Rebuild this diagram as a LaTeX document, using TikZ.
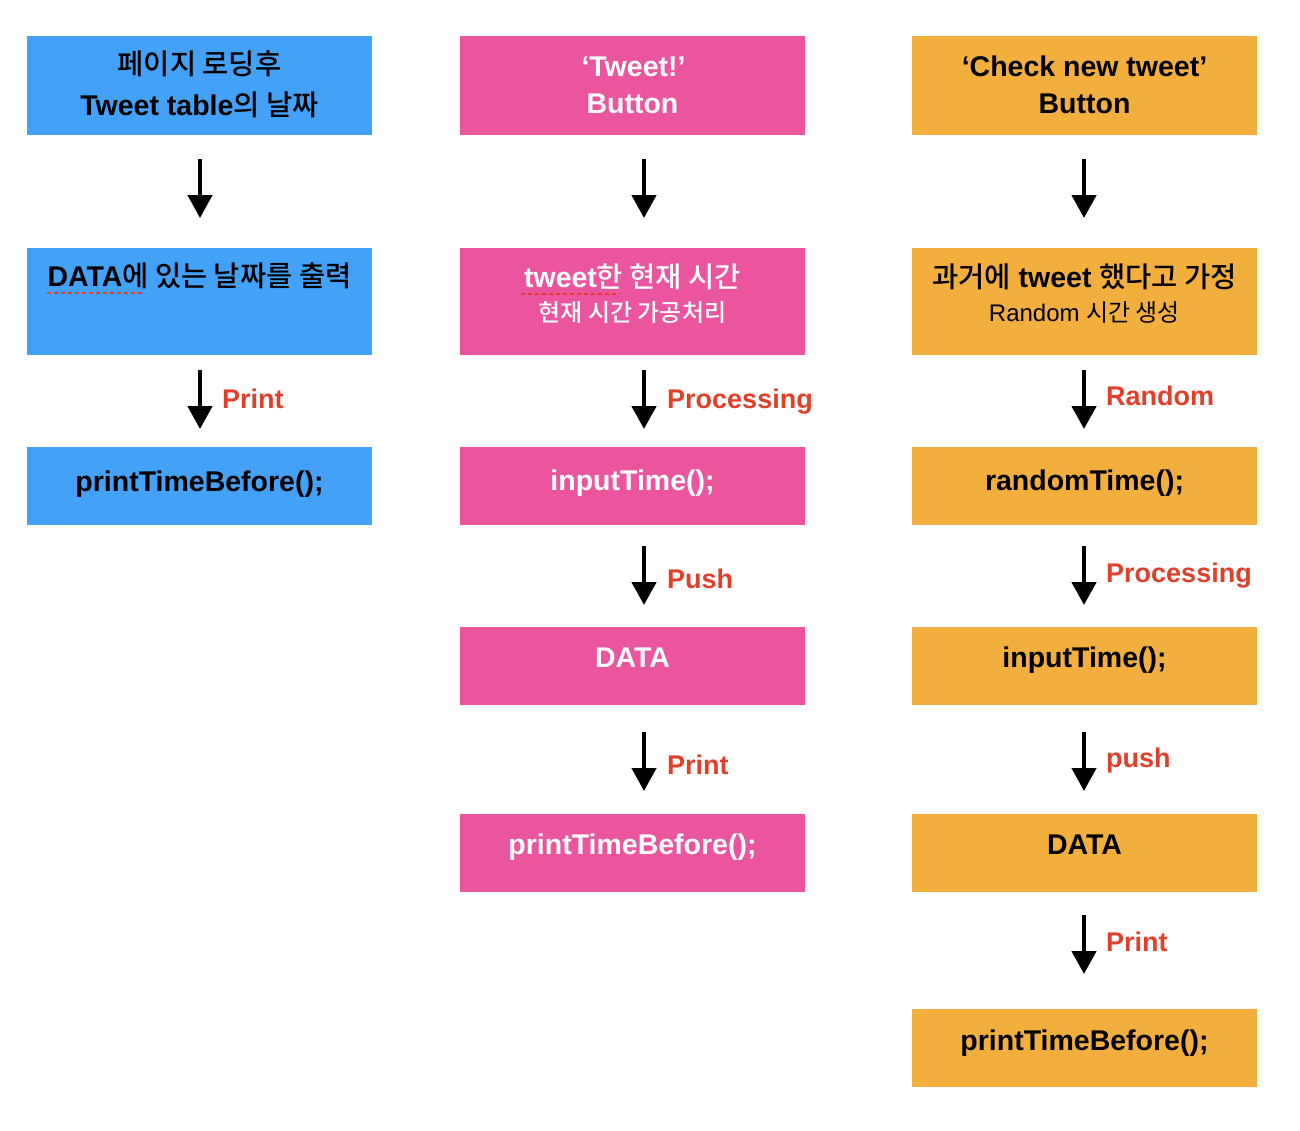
\documentclass[tikz,border=0pt]{standalone}
\usepackage{fontspec}
\setmainfont{Liberation Sans}
\newfontfamily\krfont{Noto Sans CJK KR}[BoldFont={Noto Sans CJK KR Medium}]
\newcommand\KR[1]{{\krfont #1}}
\usetikzlibrary{arrows.meta,calc}
\definecolor{cblue}{HTML}{43A1F8}
\definecolor{cpink}{HTML}{EB559E}
\definecolor{corange}{HTML}{F3AF3E}
\definecolor{cred}{HTML}{E0402A}
\begin{document}
\begin{tikzpicture}[x=1pt,y=-1pt,
  box/.style={fill=#1, draw=none, anchor=north west, minimum width=345pt, inner sep=0pt, outer sep=0pt},
  txt/.style={anchor=base, inner sep=0pt, font=\bfseries\fontsize{28.5}{33}\selectfont},
  stxt/.style={anchor=base, inner sep=0pt, font=\bfseries\fontsize{24}{28}\selectfont},
  lbl/.style={anchor=base west, inner sep=0pt, text=cred, font=\bfseries\fontsize{27}{31}\selectfont},
  arr/.style={line width=4.5pt, -{Triangle[width=24pt,length=23pt]}},
  squig/.style={cred, line width=2.2pt, dash pattern=on 4pt off 3pt}
]
\useasboundingbox (0,0) rectangle (1300,1130);

% ---------- column 1 (blue) ----------
\node[box=cblue, minimum height=99pt] (b11) at (27,36) {};
\node[box=cblue, minimum height=107pt] (b12) at (27,248) {};
\node[box=cblue, minimum height=78pt] (b13) at (27,447) {};
\node[txt] (t11a) at ($(b11.north)+(0,38)$) {\KR{페이지 로딩후}};
\node[txt] (t11b) at ($(b11.north)+(0,79)$) {Tweet table\KR{의 날짜}};
\node[txt] (t12) at ($(b12.north)+(0,38)$) {DATA\KR{에 있는 날짜를 출력}};
\coordinate (u1s) at (47,293); \coordinate (u1e) at (143,293);
\draw[squig] (u1s) -- (u1e);
\node[txt] (t13) at ($(b13.north)+(0,44)$) {printTimeBefore();};

\coordinate (a11s) at (200,159); \coordinate (a11e) at (200,218);
\coordinate (a12s) at (200,370); \coordinate (a12e) at (200,429);
\draw[arr] (a11s) -- (a11e);
\draw[arr] (a12s) -- (a12e);
\node[lbl] (l12) at (222,408) {Print};

% ---------- column 2 (pink) ----------
\node[box=cpink, minimum height=99pt] (b21) at (460,36) {};
\node[box=cpink, minimum height=107pt] (b22) at (460,248) {};
\node[box=cpink, minimum height=78pt] (b23) at (460,447) {};
\node[box=cpink, minimum height=78pt] (b24) at (460,627) {};
\node[box=cpink, minimum height=78pt] (b25) at (460,814) {};
\node[txt, text=white] (t21a) at ($(b21.north)+(1,40)$) {‘Tweet!’};
\node[txt, text=white] (t21b) at ($(b21.north)+(0,77)$) {Button};
\node[txt, text=white] (t22a) at ($(b22.north)+(0,39)$) {tweet\KR{한 현재 시간}};
\node[stxt, text=white] (t22b) at ($(b22.north)+(0,73)$) {\KR{현재 시간 가공처리}};
\coordinate (u2s) at (521,294); \coordinate (u2e) at (617,294);
\draw[squig] (u2s) -- (u2e);
\node[txt, text=white] (t23) at ($(b23.north)+(0,43)$) {inputTime();};
\node[txt, text=white] (t24) at ($(b24.north)+(0,40)$) {DATA};
\node[txt, text=white] (t25) at ($(b25.north)+(0,40)$) {printTimeBefore();};

\coordinate (a21s) at (644,159); \coordinate (a21e) at (644,218);
\coordinate (a22s) at (644,370); \coordinate (a22e) at (644,429);
\coordinate (a23s) at (644,546); \coordinate (a23e) at (644,605);
\coordinate (a24s) at (644,732); \coordinate (a24e) at (644,791);
\draw[arr] (a21s) -- (a21e);
\draw[arr] (a22s) -- (a22e);
\draw[arr] (a23s) -- (a23e);
\draw[arr] (a24s) -- (a24e);
\node[lbl] (l22) at (667,408) {Processing};
\node[lbl] (l23) at (667,588) {Push};
\node[lbl] (l24) at (667,774) {Print};

% ---------- column 3 (orange) ----------
\node[box=corange, minimum height=99pt] (b31) at (912,36) {};
\node[box=corange, minimum height=107pt] (b32) at (912,248) {};
\node[box=corange, minimum height=78pt] (b33) at (912,447) {};
\node[box=corange, minimum height=78pt] (b34) at (912,627) {};
\node[box=corange, minimum height=78pt] (b35) at (912,814) {};
\node[box=corange, minimum height=78pt] (b36) at (912,1009) {};
\node[txt] (t31a) at ($(b31.north)+(0,40)$) {‘Check new tweet’};
\node[txt] (t31b) at ($(b31.north)+(0,77)$) {Button};
\node[txt] (t32a) at ($(b32.north)+(0,39)$) {\KR{과거에} tweet \KR{했다고 가정}};
\node[stxt] (t32b) at ($(b32.north)+(0,73)$) {\mdseries Random \KR{시간 생성}};
\node[txt] (t33) at ($(b33.north)+(0,43)$) {randomTime();};
\node[txt] (t34) at ($(b34.north)+(0,40)$) {inputTime();};
\node[txt] (t35) at ($(b35.north)+(0,40)$) {DATA};
\node[txt] (t36) at ($(b36.north)+(0,41)$) {printTimeBefore();};

\coordinate (a31s) at (1084,159); \coordinate (a31e) at (1084,218);
\coordinate (a32s) at (1084,370); \coordinate (a32e) at (1084,429);
\coordinate (a33s) at (1084,546); \coordinate (a33e) at (1084,605);
\coordinate (a34s) at (1084,732); \coordinate (a34e) at (1084,791);
\coordinate (a35s) at (1084,915); \coordinate (a35e) at (1084,974);
\draw[arr] (a31s) -- (a31e);
\draw[arr] (a32s) -- (a32e);
\draw[arr] (a33s) -- (a33e);
\draw[arr] (a34s) -- (a34e);
\draw[arr] (a35s) -- (a35e);
\node[lbl] (l32) at (1106,405) {Random};
\node[lbl] (l33) at (1106,582) {Processing};
\node[lbl] (l34) at (1106,767) {push};
\node[lbl] (l35) at (1106,951) {Print};
\end{tikzpicture}
\end{document}
